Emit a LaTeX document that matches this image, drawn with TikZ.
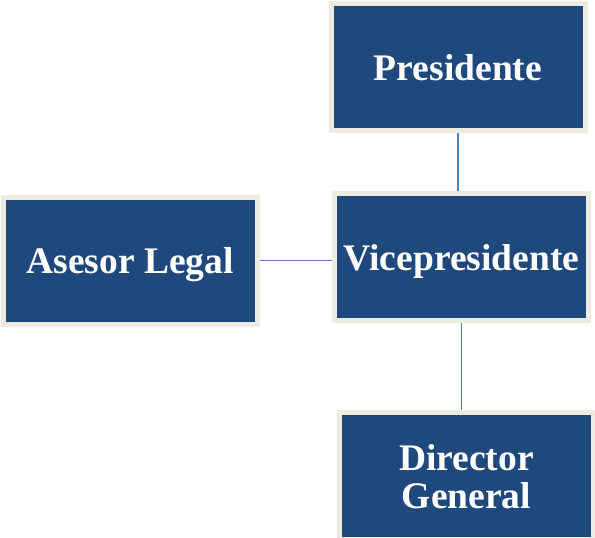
\documentclass[tikz,border=0pt]{standalone}
\usepackage{fontspec}
\setmainfont{Liberation Serif}
\usetikzlibrary{positioning}

\definecolor{boxblue}{HTML}{1F497D}
\definecolor{boxrim}{HTML}{EEECE1}
\definecolor{linkblue}{HTML}{4F81BD}

\begin{document}
\begin{tikzpicture}[x=1pt, y=-1pt,
    post/.style={rectangle, fill=boxblue, draw=boxrim, line width=5pt,
        minimum width=254pt, minimum height=127pt, inner sep=0pt,
        text=white, align=center, text depth=0pt,
        font=\fontsize{37.5}{38}\selectfont\bfseries},
    link/.style={draw=linkblue, line width=1.5pt}]

    \useasboundingbox (0,0) rectangle (595,538);

    \node[post]   (vice)  at (461.5,257) {Vicepresidente};
    \node[post]   (pres)  at (458,67)    {Presidente};
    \node[post]   (legal) at (130,260.5) {Asesor Legal};
    \node[post]   (dir)   at (466.5,476) {Director\\General};

    \path[link] (pres.south) -- (pres.south |- vice.north);
    \path[link] (legal.east) -- (vice.west |- legal.east);
    \path[link] (vice.south) -- (vice.south |- dir.north);
\end{tikzpicture}
\end{document}
